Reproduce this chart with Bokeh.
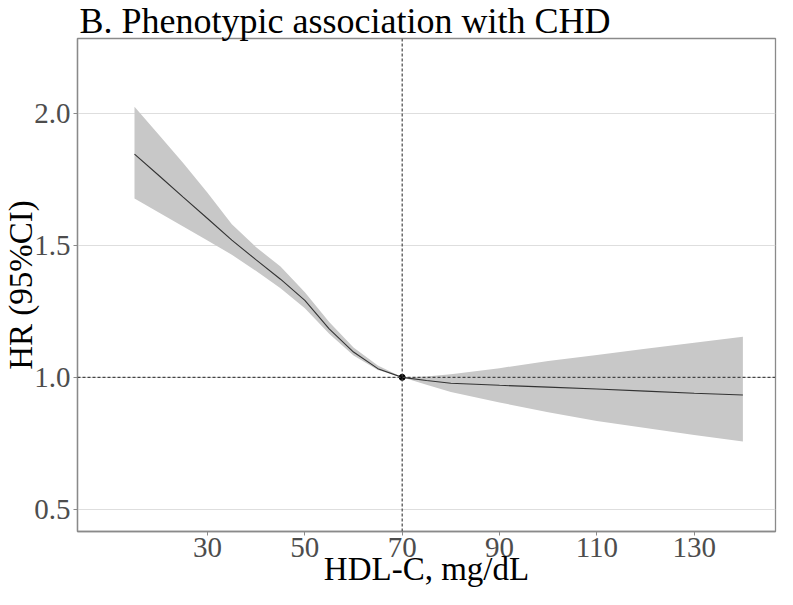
from bokeh.plotting import figure
from bokeh.models import ColumnDataSource, FixedTicker, PrintfTickFormatter, Span
from bokeh.embed import file_html
from bokeh.resources import INLINE

# ---- data ----
hdl = [15, 20, 25, 30, 35, 40, 45, 50, 55, 60, 65, 70,
       75, 80, 90, 100, 110, 120, 130, 140]
hr = [1.846, 1.765, 1.683, 1.602, 1.520, 1.445, 1.372, 1.292, 1.184, 1.096, 1.033, 1.000,
      0.988, 0.978, 0.970, 0.963, 0.956, 0.948, 0.940, 0.933]
hr_upper = [2.025, 1.919, 1.812, 1.700, 1.580, 1.493, 1.420, 1.323, 1.210, 1.113, 1.045, 1.000,
            1.003, 1.012, 1.035, 1.062, 1.085, 1.108, 1.131, 1.154]
hr_lower = [1.678, 1.625, 1.572, 1.519, 1.465, 1.403, 1.338, 1.262, 1.165, 1.083, 1.028, 1.000,
            0.972, 0.945, 0.905, 0.868, 0.835, 0.808, 0.782, 0.757]
ref_x = [70]
ref_y = [1.0]
x_ticks = [30, 50, 70, 90, 110, 130]
y_ticks = [0.5, 1.0, 1.5, 2.0]
title_text = "B. Phenotypic association with CHD"
x_label = "HDL-C, mg/dL"
y_label = "HR (95%CI)"

X0, X1 = 3.29, 146.7
Y0, Y1 = 0.416, 2.284

src = ColumnDataSource(dict(x=hdl, y=hr, lo=hr_lower, hi=hr_upper))

p = figure(width=777, height=589, x_range=(X0, X1), y_range=(Y0, Y1),
           output_backend="svg", toolbar_location=None,
           min_border_left=0, min_border_right=2, min_border_top=0, min_border_bottom=0,
           title=title_text)
p.background_fill_color = "white"
p.border_fill_color = "white"
p.outline_line_color = "#8a8a8a"
p.outline_line_width = 1.3

p.title.text_font = "Liberation Serif"
p.title.text_font_size = "36px"
p.title.text_font_style = "normal"
p.title.text_color = "black"
p.title.standoff = -4
p.title.offset = 2

p.varea(x="x", y1="lo", y2="hi", source=src, fill_color="#c8c8c8", fill_alpha=1.0)
p.line(x="x", y="y", source=src, line_color="#333333", line_width=1.1)

p.add_layout(Span(location=70, dimension="height", line_color="#444444",
                  line_dash="3 2", line_width=1.2))
p.add_layout(Span(location=1.0, dimension="width", line_color="#444444",
                  line_dash="3 2", line_width=1.2))
p.scatter(ref_x, ref_y, size=6, color="black")

p.xgrid.visible = False
p.ygrid.grid_line_color = "#dedede"
p.ygrid.grid_line_width = 1.2
p.ygrid.ticker = FixedTicker(ticks=y_ticks)

for ax in (p.xaxis[0], p.yaxis[0]):
    ax.axis_line_color = "#8a8a8a"
    ax.axis_line_width = 1.3
    ax.major_tick_line_color = "#8a8a8a"
    ax.major_tick_out = 4
    ax.major_tick_in = 0
    ax.minor_tick_line_color = None
    ax.major_label_text_font = "Liberation Serif"
    ax.major_label_text_font_size = "29px"
    ax.major_label_text_color = "#4d4d4d"
    ax.axis_label_text_font = "Liberation Serif"
    ax.axis_label_text_font_size = "33px"
    ax.axis_label_text_font_style = "normal"
    ax.axis_label_text_color = "black"

p.xaxis[0].ticker = FixedTicker(ticks=x_ticks)
p.yaxis[0].ticker = FixedTicker(ticks=y_ticks)
p.yaxis[0].formatter = PrintfTickFormatter(format="%.1f")
p.xaxis[0].major_label_standoff = 2
p.yaxis[0].major_label_standoff = 3
p.xaxis[0].axis_label = x_label
p.yaxis[0].axis_label = y_label
p.xaxis[0].axis_label_standoff = -9
p.yaxis[0].axis_label_standoff = -8

open("out.html", "w").write(file_html(p, INLINE))
